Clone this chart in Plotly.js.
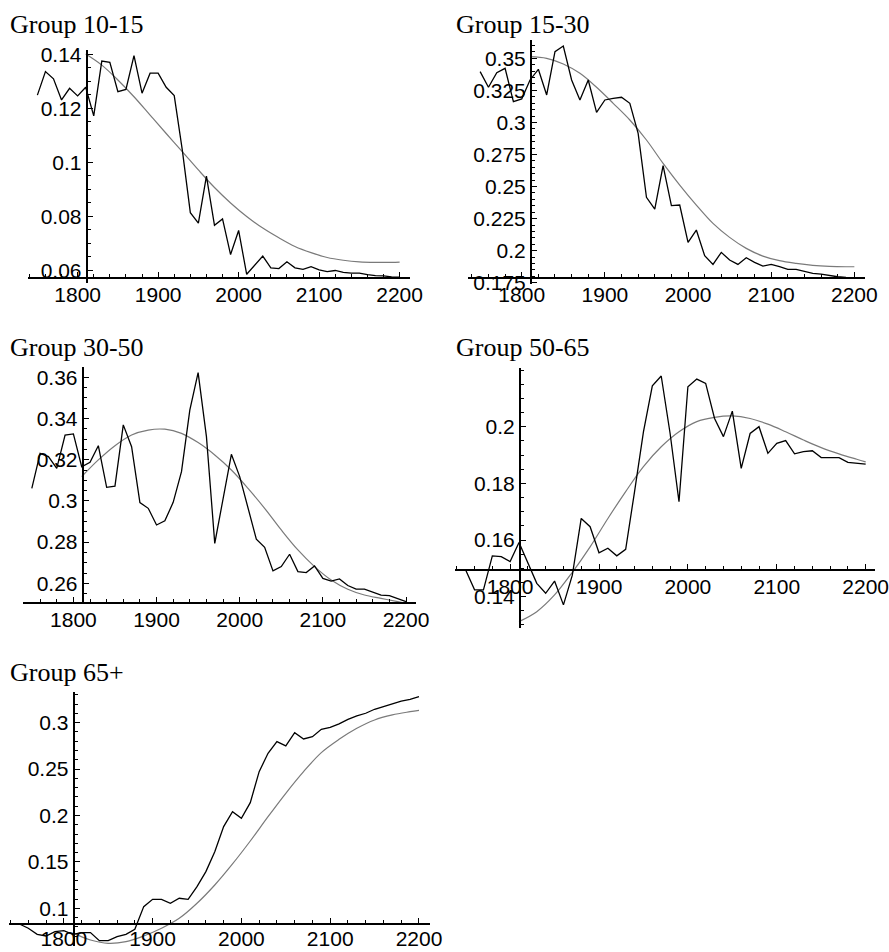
<!DOCTYPE html>
<html><head><meta charset="utf-8">
<script src="https://cdn.plot.ly/plotly-3.0.1.min.js"></script>
<style>html,body{margin:0;padding:0;background:#fff}#chart{width:889px;height:952px}</style>
</head><body><div id="chart"></div>
<script>
// ---------- data ----------
const years = [1750,1760,1770,1780,1790,1800,1810,1820,1830,1840,1850,1860,1870,1880,1890,1900,1910,1920,1930,1940,1950,1960,1970,1980,1990,2000,2010,2020,2030,2040,2050,2060,2070,2080,2090,2100,2110,2120,2130,2140,2150,2160,2170,2180,2190,2200];
const fitYears = [1810,1830,1850,1870,1890,1910,1930,1950,1970,1990,2010,2030,2050,2070,2090,2110,2130,2150,2170,2190,2200];

const titles = ["Group 10-15","Group 15-30","Group 30-50","Group 50-65","Group 65+"];

const g1015 = [0.1249,0.1336,0.1309,0.1231,0.1274,0.1246,0.1278,0.1172,0.1375,0.1370,0.1262,0.1270,0.1395,0.1256,0.1330,0.1330,0.1278,0.1247,0.1046,0.0814,0.0775,0.0949,0.0767,0.0791,0.0659,0.0748,0.0586,0.0620,0.0653,0.0610,0.0607,0.0632,0.0610,0.0604,0.0614,0.0602,0.0596,0.0600,0.0593,0.0590,0.0590,0.0585,0.0581,0.0580,0.0576,0.0575];
const fit1015 = [0.1401,0.1360,0.1305,0.1243,0.1175,0.1107,0.1040,0.0972,0.0907,0.0850,0.0800,0.0757,0.0721,0.0689,0.0666,0.0648,0.0638,0.0632,0.0630,0.0630,0.0631];

const g1530 = [0.3396,0.3274,0.3388,0.3422,0.3162,0.3183,0.3331,0.3414,0.3214,0.3552,0.3596,0.3331,0.3175,0.3331,0.3079,0.3175,0.3188,0.3196,0.3149,0.2915,0.2416,0.2325,0.2663,0.2351,0.2356,0.2065,0.2161,0.1961,0.1893,0.1987,0.1927,0.1893,0.1945,0.1909,0.1880,0.1893,0.1875,0.1854,0.1854,0.1836,0.1823,0.1818,0.1805,0.1797,0.1792,0.1789];
const fit1530 = [0.3513,0.3500,0.3456,0.3383,0.3274,0.3149,0.3019,0.2863,0.2681,0.2512,0.2356,0.2213,0.2104,0.2018,0.1958,0.1922,0.1901,0.1886,0.1878,0.1875,0.1875];

const g3050 = [0.3061,0.3231,0.3215,0.3158,0.3320,0.3325,0.3166,0.3187,0.3268,0.3066,0.3072,0.3369,0.3263,0.2992,0.2964,0.2883,0.2903,0.2993,0.3142,0.3441,0.3623,0.3312,0.2794,0.3005,0.3226,0.3118,0.2972,0.2814,0.2775,0.2660,0.2681,0.2741,0.2657,0.2652,0.2684,0.2624,0.2611,0.2621,0.2589,0.2572,0.2572,0.2556,0.2543,0.2540,0.2527,0.2511];
const fit3050 = [0.3118,0.3199,0.3268,0.3320,0.3344,0.3348,0.3328,0.3283,0.3223,0.3150,0.3061,0.2964,0.2859,0.2762,0.2681,0.2616,0.2571,0.2543,0.2527,0.2511,0.2503];

const g5065 = [0.1494,0.1424,0.1424,0.1544,0.1541,0.1524,0.1591,0.1518,0.1447,0.1412,0.1455,0.1371,0.1476,0.1676,0.1647,0.1555,0.1571,0.1544,0.1567,0.1771,0.1982,0.2144,0.2179,0.1976,0.1735,0.2141,0.2168,0.2153,0.2029,0.1965,0.2055,0.1853,0.1976,0.2000,0.1906,0.1941,0.1951,0.1904,0.1912,0.1915,0.1891,0.1891,0.1891,0.1874,0.1871,0.1868];
const fit5065 = [0.1312,0.1347,0.1406,0.1486,0.1576,0.1676,0.1771,0.1859,0.1929,0.1982,0.2018,0.2033,0.2038,0.2029,0.2009,0.1982,0.1953,0.1926,0.1904,0.1885,0.1876];

const g65 = [0.0831,0.0785,0.0720,0.0702,0.0749,0.0759,0.0720,0.0738,0.0738,0.0652,0.0652,0.0695,0.0720,0.0774,0.1018,0.1097,0.1097,0.1054,0.1108,0.1097,0.1233,0.1395,0.1610,0.1880,0.2041,0.1969,0.2138,0.2472,0.2670,0.2795,0.2749,0.2892,0.2824,0.2849,0.2928,0.2950,0.2986,0.3036,0.3072,0.3101,0.3144,0.3172,0.3201,0.3233,0.3251,0.3280];
const fit65 = [0.0735,0.0659,0.0623,0.0641,0.0702,0.0785,0.0892,0.1054,0.1251,0.1478,0.1725,0.1987,0.2239,0.2472,0.2677,0.2820,0.2939,0.3029,0.3083,0.3118,0.3133];

const xTickVals = [1800,1900,2000,2100,2200];
const xTickText = ["1800","1900","2000","2100","2200"];
const yTicks1015 = [0.06,0.08,0.1,0.12,0.14];
const yText1015 = ["0.06","0.08","0.1","0.12","0.14"];
const yTicks1530 = [0.175,0.2,0.225,0.25,0.275,0.3,0.325,0.35];
const yText1530 = ["0.175","0.2","0.225","0.25","0.275","0.3","0.325","0.35"];
const yTicks3050 = [0.26,0.28,0.3,0.32,0.34,0.36];
const yText3050 = ["0.26","0.28","0.3","0.32","0.34","0.36"];
const yTicks5065 = [0.14,0.16,0.18,0.2];
const yText5065 = ["0.14","0.16","0.18","0.2"];
const yTicks65 = [0.1,0.15,0.2,0.25,0.3];
const yText65 = ["0.1","0.15","0.2","0.25","0.3"];

// ---------- layout geometry (pixels) ----------
const W = 889, H = 952;
const px = v => v / W;
const py = v => 1 - v / H;

const panels = [
  {data:g1015, fit:fit1015, tv:yTicks1015, tt:yText1015, xdom:[28.3,410], xr:[1738.7,2212.9], ydom:[50,283], yr:[0.05537,0.14159], xpos:277, ypos:85.7, ymin:0.005, tx:8, ty:24.5, xso:-2},
  {data:g1530, fit:fit1530, tv:yTicks1530, tt:yText1530, xdom:[468,865], xr:[1735.4,2212.8], ydom:[40,284], yr:[0.17404,0.36426], xpos:277.3, ypos:530, ymin:0.005, tx:454, ty:24.5, xso:-2},
  {data:g3050, fit:fit3050, tv:yTicks3050, tt:yText3050, xdom:[22.7,416], xr:[1739.05,2212.0], ydom:[366.7,603.3], yr:[0.25029,0.36515], xpos:601.7, ypos:81.7, ymin:0.005, tx:8, ty:347.2, xso:-2},
  {data:g5065, fit:fit5065, tv:yTicks5065, tt:yText5065, xdom:[455,875], xr:[1738.0,2210.5], ydom:[368.3,628.3], yr:[0.12883,0.22061], xpos:569.3, ypos:519, ymin:0.005, tx:454, ty:347.2, xso:-2},
  {data:g65, fit:fit65, tv:yTicks65, tt:yText65, xdom:[9.3,430], xr:[1738.6,2212.4], ydom:[691.7,946], yr:[0.05939,0.33333], xpos:923.3, ypos:72.7, ymin:0.01, tx:8, ty:672.9, xso:-4}
];

const tickFont = {family:"Liberation Sans, Arial, sans-serif", size:21, color:"#000"};
const traces = [];
const layout = {
  width: W, height: H,
  margin: {l:0, r:0, t:0, b:0},
  paper_bgcolor: "#fff", plot_bgcolor: "rgba(0,0,0,0)",
  showlegend: false,
  annotations: []
};

panels.forEach((p, i) => {
  const n = i === 0 ? "" : String(i + 1);
  const xa = "x" + n, ya = "y" + n;
  traces.push({x: fitYears, y: p.fit, xaxis: xa, yaxis: ya, type: "scatter", mode: "lines",
    line: {color: "#7a7a7a", width: 1.2, shape: "spline", smoothing: 1}, hoverinfo: "skip"});
  traces.push({x: years, y: p.data, xaxis: xa, yaxis: ya, type: "scatter", mode: "lines",
    line: {color: "#000", width: 1.3}, hoverinfo: "skip"});
  layout["xaxis" + n] = {
    domain: [px(p.xdom[0]), px(p.xdom[1])], range: p.xr, autorange: false,
    anchor: "free", position: py(p.xpos), side: "bottom",
    showline: true, linecolor: "#000", linewidth: 1.8,
    ticks: "inside", ticklen: 5, tickwidth: 1, tickcolor: "#000",
    tickmode: "array", tickvals: xTickVals, ticktext: xTickText,
    minor: {ticks: "inside", ticklen: 3, tickwidth: 1, tickcolor: "#000", tickmode: "linear", tick0: 1800, dtick: 20},
    showgrid: false, zeroline: false, tickfont: tickFont, ticklabeloverflow: "allow",
    ticklabelstandoff: p.xso, fixedrange: true, automargin: false
  };
  layout["yaxis" + n] = {
    domain: [py(p.ydom[1]), py(p.ydom[0])], range: p.yr, autorange: false,
    anchor: "free", position: px(p.ypos), side: "left",
    showline: true, linecolor: "#000", linewidth: 1.8,
    ticks: "inside", ticklen: 5, tickwidth: 1, tickcolor: "#000",
    tickmode: "array", tickvals: p.tv, ticktext: p.tt,
    minor: {ticks: "inside", ticklen: 3, tickwidth: 1, tickcolor: "#000", tickmode: "linear", tick0: 0, dtick: p.ymin},
    showgrid: false, zeroline: false, tickfont: tickFont, ticklabeloverflow: "allow",
    fixedrange: true, automargin: false
  };
  layout.annotations.push({
    text: titles[i], xref: "paper", yref: "paper", x: px(p.tx), y: py(p.ty),
    xanchor: "left", yanchor: "middle", showarrow: false,
    font: {family: "Liberation Serif, Times New Roman, serif", size: 26, color: "#000"}
  });
});

Plotly.newPlot("chart", traces, layout, {staticPlot: true, displayModeBar: false});
</script>
</body></html>
